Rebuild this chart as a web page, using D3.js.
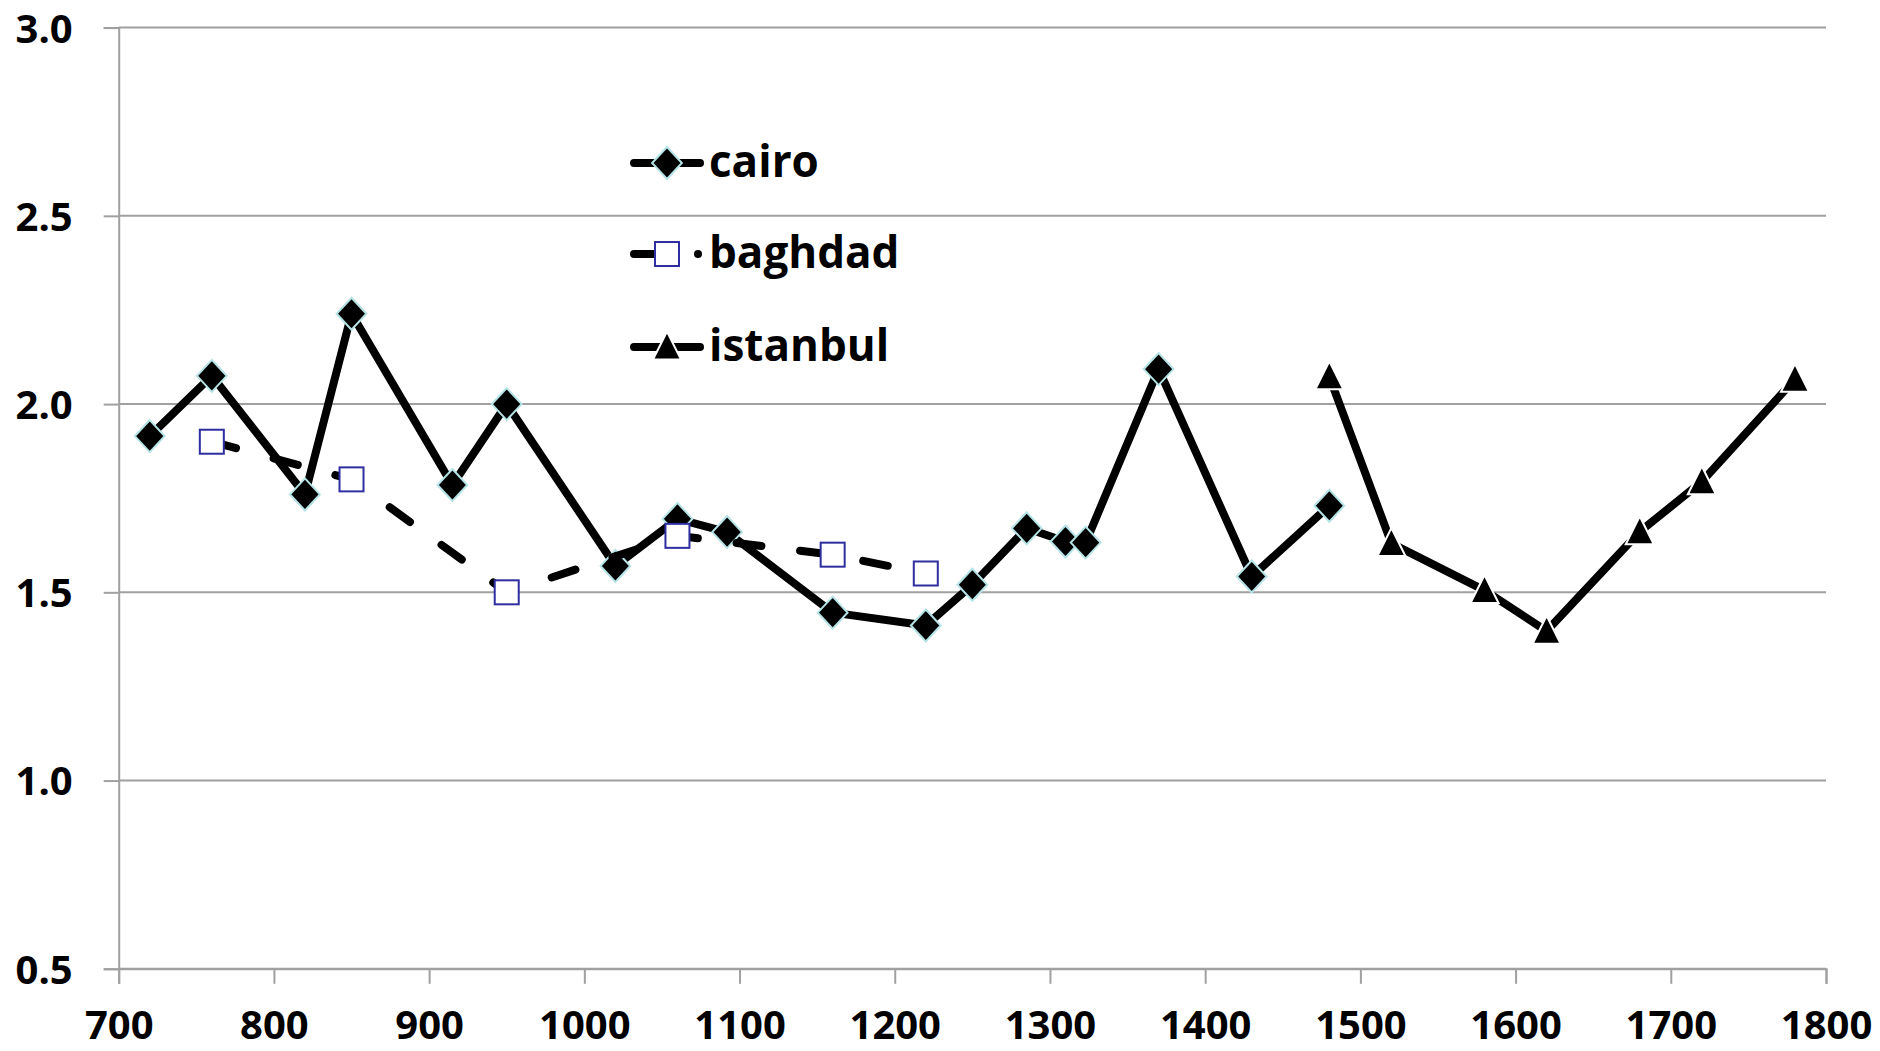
<!DOCTYPE html>
<html>
<head>
<meta charset="utf-8">
<script src="https://cdn.jsdelivr.net/npm/d3@7"></script>
<style>
  html, body { margin: 0; padding: 0; background: #fff; }
  svg { display: block; }
  text { font-family: "Open Sans", "Liberation Sans", sans-serif; font-weight: 700; fill: #000; }
</style>
</head>
<body>
<svg id="chart" width="1880" height="1051"></svg>
<script>
// ---- data ----
const cairoYears   = [720, 760, 820, 850, 915, 950, 1020, 1060, 1092, 1160, 1220, 1250, 1285, 1310, 1323, 1370, 1430, 1480];
const cairoValues  = [1.915, 2.075, 1.76, 2.24, 1.785, 2.0, 1.57, 1.695, 1.66, 1.446, 1.412, 1.52, 1.67, 1.635, 1.632, 2.093, 1.542, 1.73];
const baghdadYears  = [760, 850, 950, 1060, 1160, 1220];
const baghdadValues = [1.90, 1.80, 1.50, 1.65, 1.60, 1.55];
const istanbulYears  = [1480, 1520, 1580, 1620, 1680, 1720, 1780];
const istanbulValues = [2.073, 1.63, 1.505, 1.397, 1.661, 1.794, 2.066];
const xTicks = [700, 800, 900, 1000, 1100, 1200, 1300, 1400, 1500, 1600, 1700, 1800];
const yTicks = [0.5, 1.0, 1.5, 2.0, 2.5, 3.0];
const seriesNames = ["cairo", "baghdad", "istanbul"];

const svg = d3.select("#chart");
const x = d3.scaleLinear().domain([700, 1800]).range([118.7, 1826]);
const y = d3.scaleLinear().domain([0.5, 3.0]).range([968.8, 27.6]);
const grid = "#a0a0a0";

// gridlines
svg.append("g").selectAll("line").data(yTicks).join("line")
  .attr("x1", x(700)).attr("x2", x(1800))
  .attr("y1", d => y(d)).attr("y2", d => y(d))
  .attr("stroke", grid).attr("stroke-width", 2);

// y axis
const yAxis = svg.append("g").attr("transform", `translate(${x(700)},0)`)
  .call(d3.axisLeft(y).tickValues(yTicks).tickFormat(d3.format(".1f")).tickSize(15).tickPadding(31));
yAxis.select(".domain").attr("stroke", grid).attr("stroke-width", 2);
yAxis.selectAll(".tick line").attr("stroke", grid).attr("stroke-width", 2);
yAxis.selectAll(".tick text").attr("font-size", 40).attr("font-family", "Open Sans")
  .attr("font-weight", 700).attr("fill", "#000").attr("dy", "0.36em");

// x axis
const xAxis = svg.append("g").attr("transform", `translate(0,${y(0.5)})`)
  .call(d3.axisBottom(x).tickValues(xTicks).tickFormat(d3.format("d")).tickSize(15));
xAxis.select(".domain").attr("stroke", grid).attr("stroke-width", 2);
xAxis.selectAll(".tick line").attr("stroke", grid).attr("stroke-width", 2);
xAxis.selectAll(".tick text").attr("font-size", 40).attr("font-family", "Open Sans")
  .attr("font-weight", 700).attr("fill", "#000").attr("y", 70.5).attr("dy", null);

const line = d3.line().x(d => x(d[0])).y(d => y(d[1]));
const cairo = cairoYears.map((d, i) => [d, cairoValues[i]]);
const baghdad = baghdadYears.map((d, i) => [d, baghdadValues[i]]);
const istanbul = istanbulYears.map((d, i) => [d, istanbulValues[i]]);

const diamond = s => `M0,${-s}L${s * 0.93},0L0,${s}L${-s * 0.93},0Z`;
const tri = s => `M0,${-s * 0.55}L${s * 0.5},${s * 0.45}L${-s * 0.5},${s * 0.45}Z`;

// cairo
svg.append("path").datum(cairo).attr("d", line).attr("fill", "none")
  .attr("stroke", "#000").attr("stroke-width", 8).attr("stroke-linejoin", "round").attr("stroke-linecap", "round");
svg.append("g").selectAll("path").data(cairo).join("path")
  .attr("transform", d => `translate(${x(d[0])},${y(d[1])})`)
  .attr("d", diamond(16)).attr("fill", "#000").attr("stroke", "#b5e3e6").attr("stroke-width", 2);

// baghdad
svg.append("path").datum(baghdad).attr("d", line).attr("fill", "none")
  .attr("stroke", "#000").attr("stroke-width", 8).attr("stroke-dasharray", "25,39")
  .attr("stroke-linecap", "round");
svg.append("g").selectAll("rect").data(baghdad).join("rect")
  .attr("x", d => x(d[0]) - 12).attr("y", d => y(d[1]) - 12)
  .attr("width", 24).attr("height", 24)
  .attr("fill", "#fff").attr("stroke", "#2e2ea0").attr("stroke-width", 2);

// istanbul
svg.append("path").datum(istanbul).attr("d", line).attr("fill", "none")
  .attr("stroke", "#000").attr("stroke-width", 8).attr("stroke-linejoin", "round").attr("stroke-linecap", "round");
svg.append("g").selectAll("path").data(istanbul).join("path")
  .attr("transform", d => `translate(${x(d[0])},${y(d[1])})`)
  .attr("d", tri(28)).attr("fill", "#000").attr("stroke", "#fff").attr("stroke-width", 2);

// legend
const leg = svg.append("g");
const rows = [163, 254, 347];
// cairo
leg.append("line").attr("x1", 634).attr("x2", 700).attr("y1", rows[0]).attr("y2", rows[0])
  .attr("stroke", "#000").attr("stroke-width", 8).attr("stroke-linecap", "round");
leg.append("path").attr("transform", `translate(667,${rows[0]})`).attr("d", diamond(16))
  .attr("fill", "#000").attr("stroke", "#b5e3e6").attr("stroke-width", 2);
// baghdad
leg.append("line").attr("x1", 634).attr("x2", 703).attr("y1", rows[1]).attr("y2", rows[1])
  .attr("stroke", "#000").attr("stroke-width", 8).attr("stroke-linecap", "round")
  .attr("stroke-dasharray", "19,45,0,100");
leg.append("rect").attr("x", 655).attr("y", rows[1] - 12).attr("width", 24).attr("height", 24)
  .attr("fill", "#fff").attr("stroke", "#2e2ea0").attr("stroke-width", 2);
// istanbul
leg.append("line").attr("x1", 634).attr("x2", 700).attr("y1", rows[2]).attr("y2", rows[2])
  .attr("stroke", "#000").attr("stroke-width", 8).attr("stroke-linecap", "round");
leg.append("path").attr("transform", `translate(667,${rows[2]})`).attr("d", tri(28))
  .attr("fill", "#000").attr("stroke", "#fff").attr("stroke-width", 2);

leg.selectAll("text").data(seriesNames).join("text")
  .attr("x", 709).attr("y", (d, i) => rows[i] + 14)
  .attr("font-size", 44).text(d => d);
</script>
</body>
</html>
